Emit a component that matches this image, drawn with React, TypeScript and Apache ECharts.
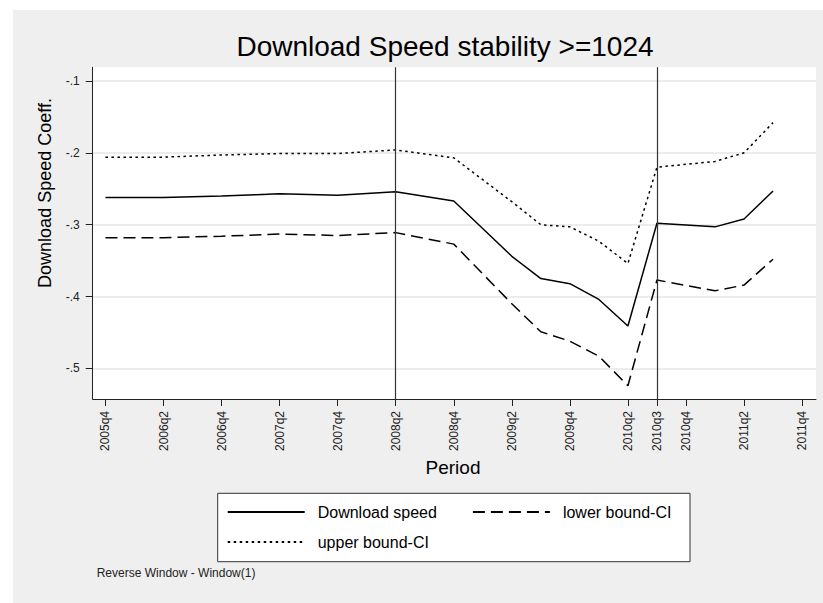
import React, { useEffect, useRef } from "react";
import * as echarts from "echarts";

// ---- data ----
const periods = [
  "2005q4", "2006q2", "2006q4", "2007q2", "2007q4", "2008q2", "2008q4",
  "2009q2", "2009q3", "2009q4", "2010q1", "2010q2", "2010q3", "2011q1",
  "2011q2", "2011q3",
];
const downloadSpeed = [
  -0.262, -0.262, -0.26, -0.257, -0.259, -0.254, -0.267, -0.344, -0.375,
  -0.382, -0.404, -0.441, -0.298, -0.303, -0.292, -0.253,
];
const lowerCI = [
  -0.318, -0.318, -0.316, -0.313, -0.315, -0.311, -0.327, -0.41, -0.449,
  -0.462, -0.483, -0.524, -0.377, -0.392, -0.384, -0.348,
];
const upperCI = [
  -0.206, -0.206, -0.203, -0.201, -0.201, -0.196, -0.207, -0.268, -0.3,
  -0.303, -0.323, -0.354, -0.22, -0.212, -0.2, -0.158,
];
const xTickPeriods = [
  "2005q4", "2006q2", "2006q4", "2007q2", "2007q4", "2008q2", "2008q4",
  "2009q2", "2009q4", "2010q2", "2010q3", "2010q4", "2011q2", "2011q4",
];
const yTicks = [-0.1, -0.2, -0.3, -0.4, -0.5];
const yTickLabels = ["-.1", "-.2", "-.3", "-.4", "-.5"];
const xLinePeriods = ["2008q2", "2010q3"];

const titleText = "Download Speed stability >=1024";
const yTitle = "Download Speed Coeff.";
const xTitle = "Period";
const noteText = "Reverse Window - Window(1)";
const seriesNames = ["Download speed", "lower bound-CI", "upper bound-CI"];

// ---- helpers ----
const BASE_YEAR = 2005;
const BASE_Q = 4;
function periodIndex(p: string): number {
  const y = parseInt(p.slice(0, 4), 10);
  const q = parseInt(p.slice(5), 10);
  return (y - BASE_YEAR) * 4 + (q - BASE_Q);
}
function indexToPeriod(i: number): string {
  const t = Math.round(i) + BASE_YEAR * 4 + (BASE_Q - 1);
  const y = Math.floor(t / 4);
  const q = (t % 4) + 1;
  return `${y}q${q}`;
}
function pairs(vals: number[]): number[][] {
  return periods.map((p, i) => [periodIndex(p), vals[i]]);
}

const FONT = "'Liberation Sans', Arial, Helvetica, sans-serif";
const OX = 13; // container offset in page
const OY = 10;

export default function App() {
  const ref = useRef<HTMLDivElement>(null);
  useEffect(() => {
    if (!ref.current) return;
    const chart = echarts.init(ref.current, undefined, { renderer: "svg" });
    const xTickValues = xTickPeriods.map(periodIndex);
    const lineBase = { color: "#000", width: 1.5 };
    const legendCommon = {
      left: 226.7 - OX,
      padding: 0,
      itemWidth: 77,
      itemHeight: 18,
      itemStyle: { opacity: 0 },
      textStyle: { fontSize: 16, fontFamily: FONT, color: "#000", padding: [0, 0, 0, 8] },
      z: 10,
      selectedMode: false,
    };
    const option: any = {
      animation: false,
      backgroundColor: "#efefef",
      grid: {
        left: 92.7 - OX,
        top: 67.3 - OY,
        width: 816 - 92.7,
        height: 399 - 67.3,
        show: true,
        backgroundColor: "#ffffff",
        borderWidth: 0,
      },
      xAxis: {
        type: "value",
        min: -0.44,
        max: 24.48,
        axisLine: { show: true, onZero: false, lineStyle: { color: "#222", width: 1 } },
        axisTick: {
          show: true,
          length: 7,
          customValues: xTickValues,
          lineStyle: { color: "#222", width: 1 },
        },
        axisLabel: {
          customValues: xTickValues,
          rotate: 90,
          margin: 12,
          fontSize: 12,
          fontFamily: FONT,
          color: "#222",
          formatter: (v: number) => indexToPeriod(v),
        },
        splitLine: { show: false },
      },
      yAxis: {
        type: "value",
        min: -0.5425,
        max: -0.081,
        axisLine: { show: true, onZero: false, lineStyle: { color: "#222", width: 1 } },
        axisTick: {
          show: true,
          length: 7,
          customValues: yTicks,
          lineStyle: { color: "#222", width: 1 },
        },
        axisLabel: {
          customValues: yTicks,
          margin: 13,
          fontSize: 12,
          fontFamily: FONT,
          color: "#222",
          formatter: (v: number) => {
            const k = yTicks.findIndex((t) => Math.abs(t - v) < 1e-9);
            return k >= 0 ? yTickLabels[k] : "";
          },
        },
        splitLine: { show: true, lineStyle: { color: "#e6e6e6", width: 1.5 } },
      },
      legend: [
        {
          ...legendCommon,
          data: [seriesNames[0], seriesNames[1]],
          top: 504 - OY,
          itemGap: 35,
        },
        {
          ...legendCommon,
          data: [seriesNames[2]],
          top: 534 - OY,
        },
      ],
      graphic: [
        {
          type: "text",
          x: 445 - OX,
          y: 46 - OY,
          style: {
            text: titleText,
            fontSize: 28,
            fontFamily: FONT,
            fill: "#000",
            align: "center",
            verticalAlign: "middle",
          },
        },
        {
          type: "text",
          x: 45 - OX,
          y: 193 - OY,
          rotation: Math.PI / 2,
          style: {
            text: yTitle,
            fontSize: 18,
            fontFamily: FONT,
            fill: "#000",
            align: "center",
            verticalAlign: "middle",
          },
        },
        {
          type: "text",
          x: 453 - OX,
          y: 467 - OY,
          style: {
            text: xTitle,
            fontSize: 19,
            fontFamily: FONT,
            fill: "#000",
            align: "center",
            verticalAlign: "middle",
          },
        },
        {
          type: "rect",
          z: 0,
          shape: { x: 217.7 - OX, y: 493.3 - OY, width: 690 - 217.7, height: 561.7 - 493.3 },
          style: { fill: "#ffffff", stroke: "#333", lineWidth: 1 },
        },
        {
          type: "text",
          x: 96.7 - OX,
          y: 572.5 - OY,
          style: {
            text: noteText,
            fontSize: 12,
            fontFamily: FONT,
            fill: "#222",
            align: "left",
            verticalAlign: "middle",
          },
        },
      ],
      series: [
        {
          name: seriesNames[0],
          type: "line",
          data: pairs(downloadSpeed),
          symbol: "none",
          lineStyle: { ...lineBase, type: "solid" },
          itemStyle: { color: "#000" },
          markLine: {
            silent: true,
            symbol: "none",
            label: { show: false },
            lineStyle: { color: "#333", width: 1.2, type: "solid" },
            data: xLinePeriods.map((p) => ({ xAxis: periodIndex(p) })),
          },
          z: 3,
        },
        {
          name: seriesNames[1],
          type: "line",
          data: pairs(lowerCI),
          symbol: "none",
          lineStyle: { ...lineBase, type: [12, 6] },
          itemStyle: { color: "#000" },
          z: 3,
        },
        {
          name: seriesNames[2],
          type: "line",
          data: pairs(upperCI),
          symbol: "none",
          lineStyle: { ...lineBase, type: [2.5, 3.5] },
          itemStyle: { color: "#000" },
          z: 3,
        },
      ],
    };
    chart.setOption(option);
    return () => chart.dispose();
  }, []);
  return (
    <div
      ref={ref}
      style={{
        position: "fixed",
        left: OX,
        top: OY,
        width: 823 - OX,
        height: 603 - OY,
        background: "#efefef",
      }}
    />
  );
}
